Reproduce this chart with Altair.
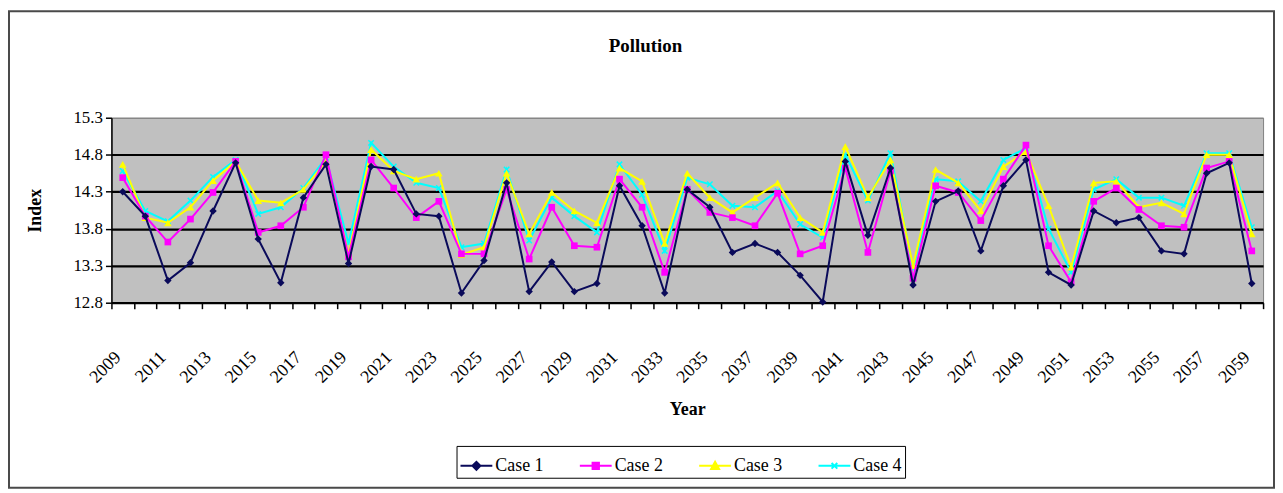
import altair as alt
import pandas as pd

years = list(range(2009, 2060))
case1 = [14.30, 13.97, 13.10, 13.34, 14.04, 14.69, 13.66, 13.07, 14.22, 14.67,
         13.33, 14.64, 14.60, 14.00, 13.97, 12.93, 13.37, 14.42, 12.95, 13.35,
         12.95, 13.06, 14.38, 13.84, 12.93, 14.33, 14.09, 13.48, 13.60, 13.48,
         13.17, 12.81, 14.71, 13.71, 14.62, 13.04, 14.17, 14.31, 13.50, 14.38,
         14.73, 13.21, 13.04, 14.04, 13.88, 13.95, 13.50, 13.46, 14.55, 14.69,
         13.06]
case2 = [14.49, 13.97, 13.62, 13.93, 14.29, 14.71, 13.75, 13.84, 14.09, 14.80,
         13.42, 14.73, 14.35, 13.95, 14.17, 13.46, 13.46, 14.33, 13.39, 14.09,
         13.57, 13.55, 14.47, 14.09, 13.21, 14.33, 14.02, 13.95, 13.84, 14.28,
         13.46, 13.57, 14.62, 13.48, 14.58, 13.13, 14.38, 14.29, 13.91, 14.47,
         14.93, 13.57, 13.08, 14.17, 14.35, 14.06, 13.84, 13.82, 14.62, 14.71,
         13.50]
case3 = [14.67, 13.95, 13.88, 14.09, 14.45, 14.71, 14.18, 14.15, 14.33, 14.71,
         13.46, 14.87, 14.58, 14.47, 14.55, 13.45, 13.55, 14.55, 13.73, 14.29,
         14.04, 13.88, 14.62, 14.44, 13.60, 14.55, 14.22, 14.02, 14.22, 14.42,
         13.95, 13.75, 14.91, 14.22, 14.73, 13.30, 14.60, 14.42, 14.04, 14.64,
         14.84, 14.11, 13.28, 14.42, 14.44, 14.09, 14.15, 14.00, 14.80, 14.80,
         13.73]
case4 = [14.58, 14.04, 13.90, 14.18, 14.50, 14.73, 14.00, 14.09, 14.35, 14.76,
         13.60, 14.96, 14.64, 14.42, 14.35, 13.55, 13.60, 14.60, 13.64, 14.22,
         13.97, 13.75, 14.67, 14.26, 13.50, 14.49, 14.40, 14.11, 14.09, 14.31,
         13.86, 13.68, 14.80, 14.18, 14.82, 13.26, 14.47, 14.44, 14.17, 14.73,
         14.89, 13.80, 13.21, 14.33, 14.47, 14.22, 14.22, 14.11, 14.82, 14.82,
         13.82]

series_names = ["Case 1", "Case 2", "Case 3", "Case 4"]
series_values = [case1, case2, case3, case4]
colors = ["#0a0a5a", "#ff00ff", "#ffff00", "#00ffff"]
y_ticks = [12.8, 13.3, 13.8, 14.3, 14.8, 15.3]

rows = []
for name, vals in zip(series_names, series_values):
    for yr, v in zip(years, vals):
        rows.append({"year": yr, "value": v, "series": name})
df = pd.DataFrame(rows)

W, H = 1158, 186
FONT = "Liberation Serif"
band = W / len(years)

x_bounds = [y - 0.5 for y in years] + [years[-1] + 0.5]
x_scale = alt.Scale(domain=[years[0] - 0.5, years[-1] + 0.5], nice=False, zero=False)
y_scale = alt.Scale(domain=[y_ticks[0], y_ticks[-1]], nice=False, zero=False)

x_axis = alt.Axis(
    values=x_bounds,
    labelExpr="(datum.value < 2059.4 && (datum.value - 2008.5) % 2 == 0) ? format(datum.value + 0.5, 'd') : ''",
    labelOffset=band / 2 - 5,
    labelAngle=-45,
    labelAlign="right",
    labelBaseline="middle",
    labelPadding=46,
    labelFlush=False,
    labelOverlap=False,
    labelFont=FONT,
    labelFontSize=18,
    labelColor="black",
    tickSize=6,
    tickColor="black",
    tickWidth=1.5,
    domainColor="black",
    domainWidth=1.5,
    grid=False,
    titleFont=FONT,
    titleFontSize=18,
    titleFontWeight="bold",
    titleColor="black",
    titlePadding=15,
)
y_axis = alt.Axis(
    values=y_ticks,
    format=".1f",
    labelFont=FONT,
    labelFontSize=17,
    labelColor="black",
    labelPadding=3,
    tickSize=6,
    tickColor="black",
    tickWidth=1.5,
    domainColor="black",
    domainWidth=1.5,
    grid=True,
    gridColor={"condition": {"test": "datum.value > 15.2", "value": "#808080"}, "value": "black"},
    gridWidth={"condition": {"test": "datum.value > 15.2", "value": 1}, "value": 2.2},
    gridOpacity=1,
    titleFont=FONT,
    titleFontSize=18,
    titleFontWeight="bold",
    titleColor="black",
    titlePadding=29,
)

X = alt.X("year:Q", scale=x_scale, axis=x_axis, title="Year")
Y = alt.Y("value:Q", scale=y_scale, axis=y_axis, title="Index")

base = alt.Chart(df)

# legend-only layer (invisible points, combined line+marker legend symbols)
legend_paths = [
    "M-1,0L1,0M-0.25,0L0,-0.25L0.25,0L0,0.25Z",
    "M-1,0L1,0M-0.2,-0.2L0.2,-0.2L0.2,0.2L-0.2,0.2Z",
    "M-1,0L1,0M-0.25,0.2L0.25,0.2L0,-0.25Z",
    "M-1,0L1,0M-0.18,-0.18L0.18,0.18M-0.18,0.18L0.18,-0.18",
]
leg = alt.Legend(
    title=None,
    orient="none",
    legendX=347,
    legendY=330,
    direction="horizontal",
    strokeColor="black",
    fillColor="white",
    padding=3,
    labelFont=FONT,
    labelFontSize=18,
    labelColor="black",
    labelOffset=2,
    symbolSize=1024,
    symbolStrokeWidth=2,
    symbolOpacity=1,
    columnPadding=32,
)
color_scale = alt.Scale(domain=series_names, range=colors)
legend_layer = base.mark_point(opacity=0, strokeWidth=2).encode(
    x=X,
    y=Y,
    fill=alt.Fill("series:N", scale=color_scale, legend=leg),
    stroke=alt.Stroke("series:N", scale=color_scale, legend=leg),
    shape=alt.Shape("series:N", scale=alt.Scale(domain=series_names, range=legend_paths), legend=leg),
)

frame = alt.Chart(pd.DataFrame({"k": [0]})).mark_rect(
    fillOpacity=0, stroke="#4a4a4a", strokeWidth=2
).encode(x=alt.value(-103), x2=alt.value(1169), y=alt.value(-107), y2=alt.value(372))

marker_specs = {
    "Case 1": dict(shape="diamond", size=55, filled=True),
    "Case 2": dict(shape="square", size=45, filled=True),
    "Case 3": dict(shape="triangle-up", size=60, filled=True),
    "Case 4": dict(shape="M-1,-1L1,1M-1,1L1,-1", size=30, filled=False, strokeWidth=1.5),
}

layers = [frame, legend_layer]
for name, color in reversed(list(zip(series_names, colors))):
    sub = base.transform_filter(alt.datum.series == name)
    layers.append(sub.mark_line(color=color, strokeWidth=2).encode(x=X, y=Y))
    layers.append(sub.mark_point(color=color, opacity=1, **marker_specs[name]).encode(x=X, y=Y))

chart = alt.layer(*layers).properties(
    width=W,
    height=H,
    autosize=alt.AutoSizeParams(type="none"),
    padding={"left": 104, "top": 109, "right": 12, "bottom": 188},
    title=alt.TitleParams(
        "Pollution",
        font=FONT,
        fontSize=19,
        fontWeight="bold",
        color="black",
        anchor="middle",
        frame="group",
        dx=-42,
        offset=0,
        dy=46,
    ),
    background="white",
).configure_view(fill="#c0c0c0", stroke="#808080", strokeWidth=1)

chart.save("out.html", embed_options={"renderer": "svg", "actions": False})
